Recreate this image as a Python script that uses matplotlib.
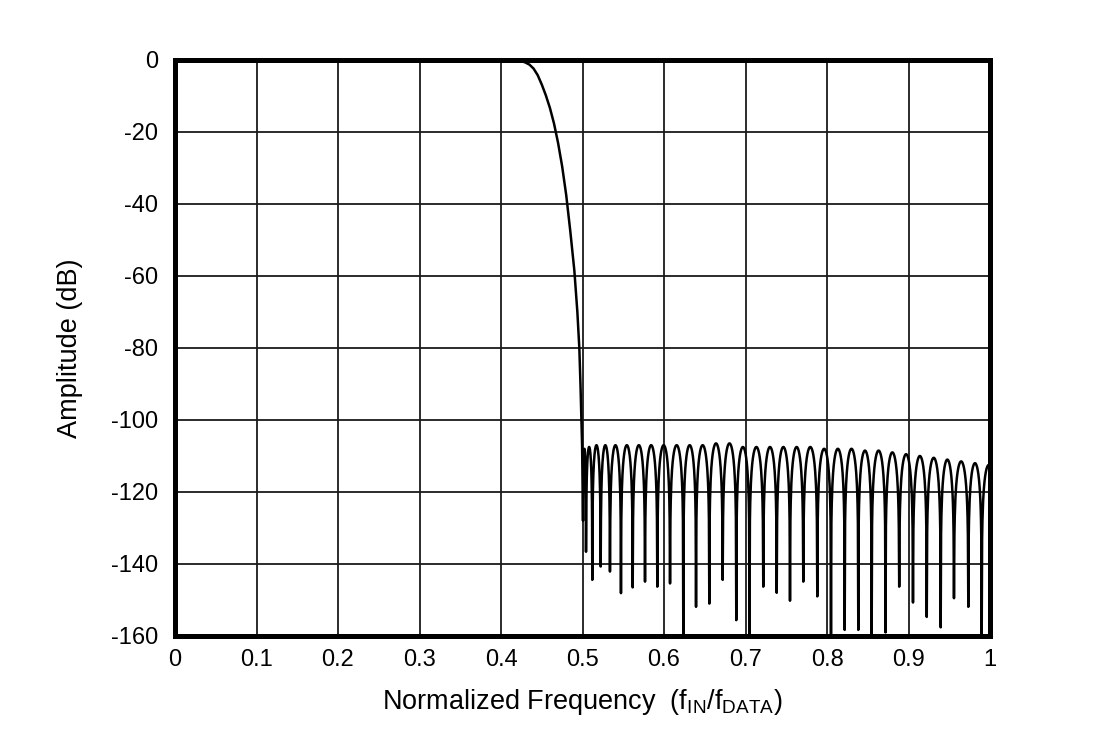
import matplotlib
matplotlib.use("Agg")
import matplotlib.pyplot as plt
import numpy as np

plt.rcParams['font.family'] = ['Liberation Sans', 'DejaVu Sans']
plt.rcParams['mathtext.default'] = 'regular'

# transition band (normalized freq, dB)
trans_f = [0.0, 0.415, 0.42, 0.425, 0.43, 0.435, 0.44, 0.445, 0.45, 0.455,
           0.46, 0.465, 0.47, 0.475, 0.48, 0.485, 0.49, 0.4937, 0.4961,
           0.4975, 0.4986, 0.4995]
trans_db = [0.0, 0.0, -0.05, -0.3, -0.7, -1.3, -2.4, -4.2, -6.8, -9.8,
            -13.3, -17.6, -23.0, -29.5, -37.5, -47.5, -58.5, -70.0, -80.0,
            -90.0, -100.0, -107.0]

# stopband nulls: position and depth
null_f = [0.5005, 0.5043, 0.5120, 0.5223, 0.5337, 0.5472, 0.5616, 0.5767,
          0.5918, 0.6074, 0.6237, 0.6393, 0.6556, 0.6720, 0.6887, 0.7049,
          0.7218, 0.7383, 0.7546, 0.7709, 0.7881, 0.8049, 0.8217, 0.8384,
          0.8548, 0.8718, 0.8886, 0.9055, 0.9224, 0.9395, 0.9558, 0.9734,
          0.9898]
null_db = [-128.0, -136.6, -144.4, -140.7, -142.1, -148.1, -146.5, -144.9,
           -146.3, -145.4, -160.0, -151.9, -151.0, -144.4, -155.6, -160.0,
           -146.3, -148.0, -150.2, -144.9, -149.0, -160.0, -158.3, -158.3,
           -160.0, -159.0, -146.3, -150.7, -154.7, -157.6, -149.5, -151.9,
           -160.0]
# peak level of each lobe between consecutive nulls (last one runs past 1.0)
peak_db = [-108.0, -107.5, -107.0, -107.0, -107.0, -107.0, -107.0, -107.0,
           -107.0, -107.0, -107.0, -107.0, -106.5, -106.5, -107.5, -107.5,
           -107.5, -107.5, -107.5, -107.5, -108.0, -108.0, -108.0, -108.5,
           -108.5, -109.0, -109.5, -110.0, -110.5, -111.0, -111.5, -112.0,
           -112.5]
last_lobe_width = 0.0172

xticks = [0, 0.1, 0.2, 0.3, 0.4, 0.5, 0.6, 0.7, 0.8, 0.9, 1.0]
xlabels = ['0', '0.1', '0.2', '0.3', '0.4', '0.5', '0.6', '0.7', '0.8', '0.9', '1']
yticks = [0, -20, -40, -60, -80, -100, -120, -140, -160]
ylabels = ['0', '-20', '-40', '-60', '-80', '-100', '-120', '-140', '-160']

# build the stopband ripple lobe by lobe
f = list(trans_f)
db = list(trans_db)
edges = null_f + [null_f[-1] + last_lobe_width]
t = np.linspace(0.03, 0.97, 40)
for i in range(len(peak_db)):
    a, b = edges[i], edges[i + 1]
    f.append(a)
    db.append(null_db[i])
    lo = null_db[i]
    hi = null_db[i + 1] if i + 1 < len(null_db) else -160.0
    vals = peak_db[i] + 20 * np.log10(np.sin(np.pi * t))
    vals = np.where(t < 0.5, np.maximum(vals, lo), np.maximum(vals, hi))
    f.extend(a + t * (b - a))
    db.extend(vals)
f = np.array(f)
db = np.array(db)
keep = f <= 1.0
f, db = f[keep], db[keep]

fig = plt.figure(figsize=(11.14, 7.43), dpi=100)
ax = fig.add_axes([175 / 1114, 107 / 743, 815 / 1114, 576 / 743])

ax.plot(f, db, color='black', lw=1.8, zorder=3)

ax.set_xlim(0, 1)
ax.set_ylim(-160, 0)
ax.set_xticks(xticks)
ax.set_xticklabels(xlabels)
ax.set_yticks(yticks)
ax.set_yticklabels(ylabels)
ax.grid(True, color='#1a1a1a', lw=1.3)
ax.tick_params(length=0, labelsize=17, pad=9)
ax.tick_params(axis='y', pad=12)
for s in ax.spines.values():
    s.set_linewidth(3.6)
    s.set_zorder(5)

ax.set_xlabel('Normalized Frequency  (f$_{IN}$/f$_{DATA}$)', fontsize=19.5, labelpad=12)
ax.set_ylabel('Amplitude (dB)', fontsize=19.5, labelpad=20)

fig.savefig('out.png', dpi=100)
